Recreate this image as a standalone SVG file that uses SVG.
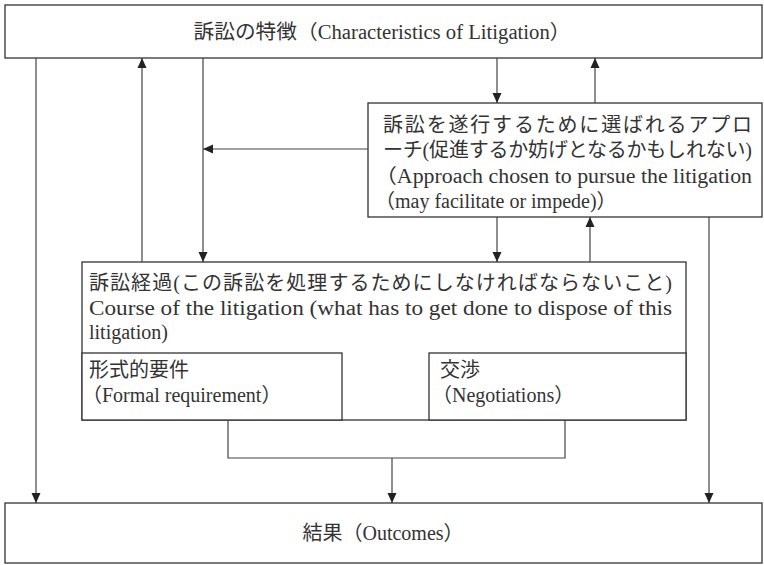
<svg xmlns="http://www.w3.org/2000/svg" width="764" height="565" viewBox="0 0 764 565">
<defs>
<style>
.box{fill:#fff;stroke:#333;stroke-width:1.3}
.ln{fill:none;stroke:#444;stroke-width:1.2}
.t{font-family:"Liberation Serif","Noto Sans CJK JP",serif;fill:#333;font-size:20px}
</style>
<marker id="ah" viewBox="0 0 10 10" refX="10" refY="5" markerWidth="10" markerHeight="10" markerUnits="userSpaceOnUse" orient="auto">
<path d="M0,0.5 L10,5 L0,9.5 z" fill="#222"/>
</marker>
</defs>
<rect width="764" height="565" fill="#fff"/>
<g id="characteristics">
<rect class="box" x="5" y="5" width="757" height="53"/>
<text class="t" x="382" y="39" text-anchor="middle" textLength="377" lengthAdjust="spacingAndGlyphs">訴訟の特徴（Characteristics of Litigation）</text>
</g>
<g id="approach">
<rect class="box" x="368" y="103" width="394" height="114"/>
<text class="t" x="383" y="132" textLength="369" lengthAdjust="spacing">訴訟を遂行するために選ばれるアプロ</text>
<text class="t" x="383" y="157" textLength="369" lengthAdjust="spacing">ーチ(促進するか妨げとなるかもしれない)</text>
<text class="t" x="375" y="183" textLength="377" lengthAdjust="spacingAndGlyphs">（Approach chosen to pursue the litigation</text>
<text class="t" x="375" y="208">（may facilitate or impede)）</text>
</g>
<g id="course">
<rect class="box" x="82" y="262" width="604" height="158"/>
<text class="t" x="89" y="290" textLength="583" lengthAdjust="spacing">訴訟経過(この訴訟を処理するためにしなければならないこと)</text>
<text class="t" x="89" y="315" textLength="583" lengthAdjust="spacingAndGlyphs">Course of the litigation (what has to get done to dispose of this</text>
<text class="t" x="89" y="339">litigation)</text>
</g>
<g id="formal">
<rect class="box" x="82" y="353" width="260" height="67"/>
<text class="t" x="89" y="377">形式的要件</text>
<text class="t" x="82" y="402">（Formal requirement）</text>
</g>
<g id="negotiations">
<rect class="box" x="429" y="353" width="257" height="67"/>
<text class="t" x="440" y="377">交渉</text>
<text class="t" x="432" y="402">（Negotiations）</text>
</g>
<g id="outcomes">
<rect class="box" x="5" y="503" width="757" height="60"/>
<text class="t" x="383" y="540" text-anchor="middle">結果（Outcomes）</text>
</g>
<g id="connectors">
<line class="ln" x1="36" y1="58" x2="36" y2="503" marker-end="url(#ah)"/>
<line class="ln" x1="142" y1="262" x2="142" y2="58" marker-end="url(#ah)"/>
<line class="ln" x1="203" y1="58" x2="203" y2="262" marker-end="url(#ah)"/>
<line class="ln" x1="368" y1="149" x2="203" y2="149" marker-end="url(#ah)"/>
<line class="ln" x1="497" y1="58" x2="497" y2="103" marker-end="url(#ah)"/>
<line class="ln" x1="595" y1="103" x2="595" y2="58" marker-end="url(#ah)"/>
<line class="ln" x1="497" y1="217" x2="497" y2="262" marker-end="url(#ah)"/>
<line class="ln" x1="590" y1="262" x2="590" y2="217" marker-end="url(#ah)"/>
<line class="ln" x1="709" y1="217" x2="709" y2="503" marker-end="url(#ah)"/>
<polyline class="ln" points="228,420 228,458 565,458 565,420"/>
<line class="ln" x1="392" y1="458" x2="392" y2="503" marker-end="url(#ah)"/>
</g>
</svg>
